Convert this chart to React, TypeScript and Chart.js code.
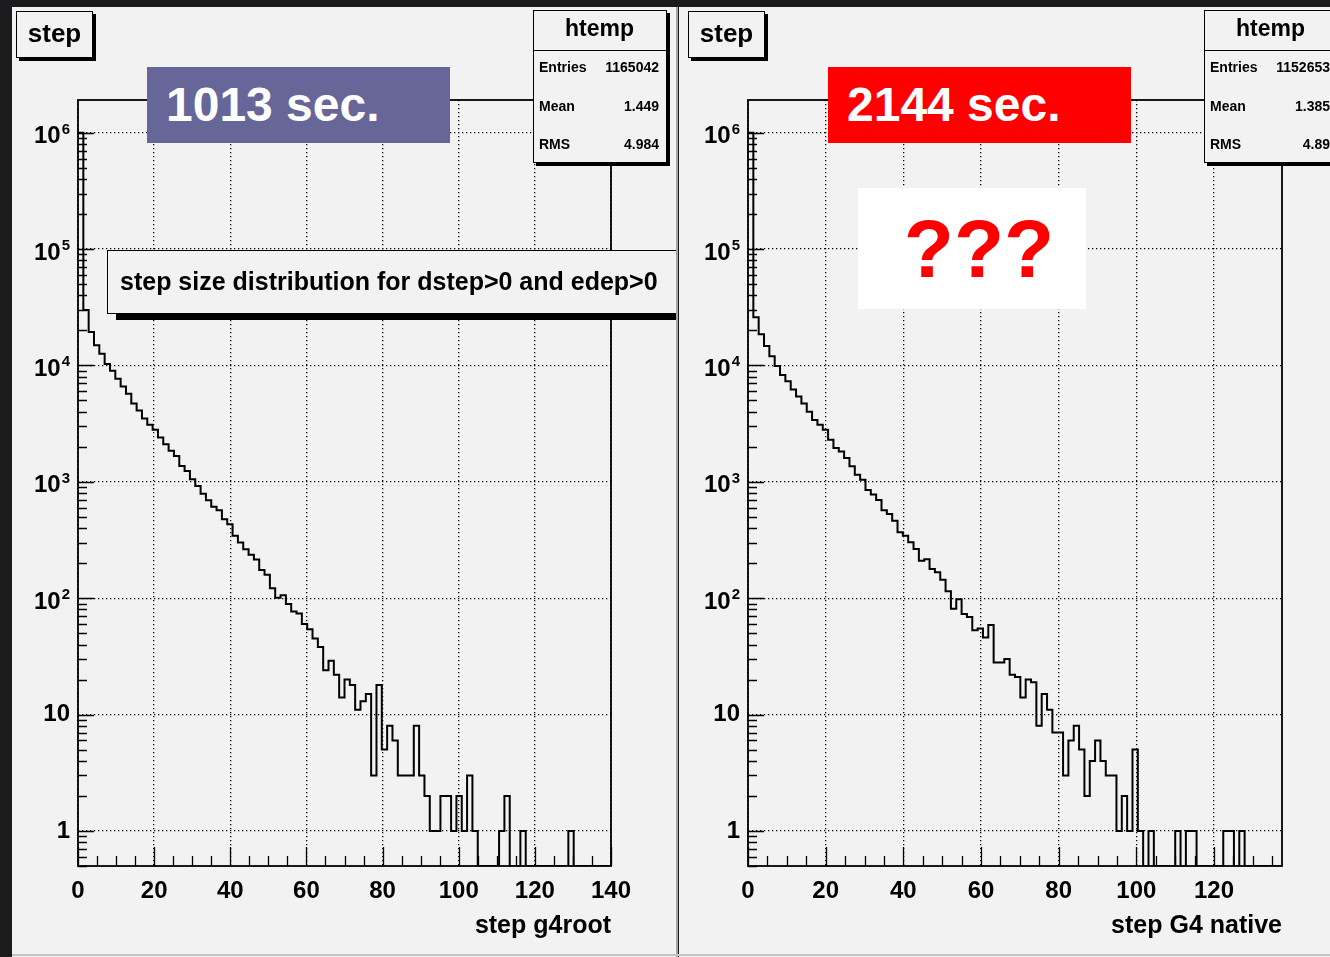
import React, { useEffect, useRef } from 'react';
import { Chart, registerables } from 'chart.js';

Chart.register(...registerables);

const FONT = '"Liberation Sans", Arial, Helvetica, sans-serif';

// ---- data (counts per bin, 100 bins each) ----
const LEFT_COUNTS = [
  1000000, 30000, 19400, 14900, 12600, 10300, 9000, 7700, 6600, 5700,
  4700, 4100, 3500, 3100, 2800, 2400, 2100, 1850, 1670, 1370,
  1240, 1050, 920, 790, 695, 610, 571, 477, 432, 344,
  301, 264, 236, 215, 175, 159, 122, 101, 106, 89,
  77, 74, 60, 54, 45, 38, 24, 29, 22, 14,
  20, 18, 11, 13, 15, 3, 18, 5, 8, 6,
  3, 3, 3, 8, 3, 2, 1, 1, 2, 2,
  1, 2, 1, 3, 1, 0, 0, 0, 0, 1,
  2, 0, 0, 1, 0, 0, 0, 0, 0, 0,
  0, 0, 1, 0, 0, 0, 0, 0, 0, 0,
];

const RIGHT_COUNTS = [
  1000000, 26000, 18500, 14700, 12000, 9900, 8300, 7300, 6200, 5400,
  4700, 4000, 3400, 3100, 2800, 2300, 1950, 1820, 1600, 1360,
  1150, 1040, 850, 780, 697, 571, 528, 464, 368, 344,
  302, 265, 210, 216, 178, 167, 144, 115, 81, 98,
  73, 69, 53, 55, 46, 59, 28, 28, 30, 22,
  21, 14, 20, 19, 8, 15, 11, 7, 7, 3,
  6, 8, 5, 2, 4, 6, 4, 3, 3, 1,
  2, 1, 5, 1, 0, 1, 0, 0, 0, 0,
  1, 0, 1, 1, 0, 0, 0, 0, 0, 1,
  1, 0, 1, 0, 0, 0, 0, 0, 0, 0,
];

const LEFT_X_MAX = 140;
const RIGHT_X_MAX = 137.5;
const Y_MIN = 0.5;
const Y_MAX = 1.91e6;
const Y_DECADES = [1, 10, 100, 1e3, 1e4, 1e5, 1e6];
const Y_TICK_BASES = ['1', '10', '10', '10', '10', '10', '10'];
const Y_TICK_EXPONENTS = ['', '', '2', '3', '4', '5', '6'];
const LEFT_X_TICKS = [0, 20, 40, 60, 80, 100, 120, 140];
const LEFT_X_LABELS = ['0', '20', '40', '60', '80', '100', '120', '140'];
const RIGHT_X_TICKS = [0, 20, 40, 60, 80, 100, 120];
const RIGHT_X_LABELS = ['0', '20', '40', '60', '80', '100', '120'];
const X_MINOR_STEP = 5;

const LEFT_STATS = { entries: '1165042', mean: '1.449', rms: '4.984' };
const RIGHT_STATS = { entries: '1152653', mean: '1.385', rms: '4.89' };

const PAD_BG = '#f2f2f2';

const rootFrame = {
  id: 'rootFrame',
  afterDatasetsDraw(chart: any, _args: any, opts: any) {
    const { ctx, chartArea: a } = chart;
    const xs = chart.scales.x;
    const ys = chart.scales.y;
    ctx.save();
    ctx.strokeStyle = '#000';
    ctx.lineWidth = 1.3;
    ctx.beginPath();
    for (let v = 0; v <= xs.max + 1e-6; v += X_MINOR_STEP) {
      const px = Math.round(xs.getPixelForValue(v)) + 0.5;
      const major = opts.xTicks.includes(v);
      const len = major ? 19 : 10;
      ctx.moveTo(px, a.bottom);
      ctx.lineTo(px, a.bottom - len);
    }
    for (let d = 0.1; d <= 1.0001e6; d *= 10) {
      for (let m = 1; m <= 9; m++) {
        const v = m * d;
        if (v < ys.min * 0.9999 || v > ys.max) continue;
        const py = Math.round(ys.getPixelForValue(v)) + 0.5;
        const len = m === 1 ? 16 : 9;
        ctx.moveTo(a.left, py);
        ctx.lineTo(a.left + len, py);
      }
    }
    ctx.stroke();
    ctx.lineWidth = 1.8;
    ctx.strokeRect(a.left, a.top, a.right - a.left, a.bottom - a.top);

    ctx.fillStyle = '#000';
    ctx.font = `bold 24px ${FONT}`;
    ctx.textAlign = 'center';
    ctx.textBaseline = 'middle';
    opts.xTicks.forEach((v: number, i: number) => {
      ctx.fillText(opts.xLabels[i], xs.getPixelForValue(v), a.bottom + 25);
    });

    const right = a.left - 8;
    Y_DECADES.forEach((v, i) => {
      const b = Y_TICK_BASES[i];
      const e = Y_TICK_EXPONENTS[i];
      const py = ys.getPixelForValue(v);
      if (!e) {
        ctx.font = `bold 24px ${FONT}`;
        ctx.textAlign = 'right';
        ctx.textBaseline = 'middle';
        ctx.fillText(b, right, py);
      } else {
        ctx.font = `bold 15px ${FONT}`;
        const we = ctx.measureText(e).width;
        ctx.textAlign = 'left';
        ctx.textBaseline = 'alphabetic';
        ctx.fillText(e, right - we, py + 1);
        ctx.font = `bold 24px ${FONT}`;
        ctx.textAlign = 'right';
        ctx.textBaseline = 'middle';
        ctx.fillText(b, right - we - 1, py + 4);
      }
    });

    ctx.font = `bold 25px ${FONT}`;
    ctx.textAlign = 'right';
    ctx.textBaseline = 'middle';
    ctx.fillText(opts.title, a.right, a.bottom + 60);
    ctx.restore();
  },
};

type PanelProps = {
  counts: number[];
  xMax: number;
  xTicks: number[];
  xLabels: string[];
  title: string;
  width: number;
  height: number;
  padding: { left: number; right: number; top: number; bottom: number };
};

function HistCanvas(p: PanelProps) {
  const ref = useRef<HTMLCanvasElement>(null);
  useEffect(() => {
    if (!ref.current) return;
    const binW = p.xMax / p.counts.length;
    const pts = p.counts.map((c, i) => ({ x: i * binW, y: c > 0 ? c : Y_MIN }));
    pts.push({ x: p.xMax, y: pts[pts.length - 1].y });
    const chart = new Chart(ref.current, {
      type: 'line',
      data: {
        datasets: [
          {
            data: pts,
            stepped: true,
            borderColor: '#000',
            borderWidth: 2,
            pointRadius: 0,
            fill: false,
            tension: 0,
          } as any,
        ],
      },
      options: {
        animation: false,
        responsive: false,
        devicePixelRatio: 1,
        layout: { padding: p.padding },
        plugins: {
          legend: { display: false },
          tooltip: { enabled: false },
          rootFrame: { xTicks: p.xTicks, xLabels: p.xLabels, title: p.title },
        } as any,
        scales: {
          x: {
            type: 'linear',
            min: 0,
            max: p.xMax,
            ticks: { display: false },
            grid: { color: '#000', lineWidth: 1.3, drawTicks: false },
            border: { display: false, dash: [1.3, 2.7] },
            afterBuildTicks: (ax: any) => {
              ax.ticks = p.xTicks.map((v) => ({ value: v }));
            },
            afterFit: (s: any) => {
              s.height = 0;
            },
          },
          y: {
            type: 'logarithmic',
            min: Y_MIN,
            max: Y_MAX,
            ticks: { display: false },
            grid: { color: '#000', lineWidth: 1.3, drawTicks: false },
            border: { display: false, dash: [1.3, 2.7] },
            afterBuildTicks: (ax: any) => {
              ax.ticks = Y_DECADES.map((v) => ({ value: v }));
            },
            afterFit: (s: any) => {
              s.width = 0;
            },
          },
        } as any,
      },
      plugins: [rootFrame],
    });
    return () => chart.destroy();
  }, []);
  return (
    <canvas
      ref={ref}
      width={p.width}
      height={p.height}
      style={{ position: 'absolute', left: 0, top: 0, width: p.width, height: p.height }}
    />
  );
}

const abs = (l: number, t: number, w: number, h: number): React.CSSProperties => ({
  position: 'absolute',
  left: l,
  top: t,
  width: w,
  height: h,
  boxSizing: 'border-box',
});

function TitleBox({ left }: { left: number }) {
  return (
    <div
      style={{
        ...abs(left, 4, 77, 47),
        background: PAD_BG,
        border: '1.5px solid #000',
        boxShadow: '3px 3px 0 #000',
        font: `bold 26px ${FONT}`,
        textAlign: 'center',
        lineHeight: '42px',
        color: '#000',
      }}
    >
      step
    </div>
  );
}

function StatsBox({ left, stats }: { left: number; stats: { entries: string; mean: string; rms: string } }) {
  const row = (label: string, value: string, top: number) => (
    <div style={{ ...abs(0, top, 134, 20), font: `bold 14px ${FONT}`, lineHeight: '20px' }}>
      <span style={{ position: 'absolute', left: 5 }}>{label}</span>
      <span style={{ position: 'absolute', right: 9 }}>{value}</span>
    </div>
  );
  return (
    <div
      style={{
        ...abs(left, 3, 134, 153),
        background: PAD_BG,
        border: '1.5px solid #000',
        boxShadow: '3px 3px 0 #000',
        color: '#000',
      }}
    >
      <div
        style={{
          ...abs(-1.5, -1.5, 134, 41),
          borderBottom: '1.5px solid #000',
          font: `bold 23px ${FONT}`,
          textAlign: 'center',
          lineHeight: '36px',
        }}
      >
        htemp
      </div>
      {row('Entries', stats.entries, 46)}
      {row('Mean', stats.mean, 85)}
      {row('RMS', stats.rms, 123)}
    </div>
  );
}

function TimeBox({ left, bg, text }: { left: number; bg: string; text: string }) {
  return (
    <div
      style={{
        ...abs(left, 60, 303, 76),
        background: bg,
        color: '#fff',
        font: `bold 48px ${FONT}`,
        lineHeight: '76px',
        paddingLeft: 19,
        whiteSpace: 'nowrap',
      }}
    >
      {text}
    </div>
  );
}

export default function App() {
  useEffect(() => {
    document.body.style.margin = '0';
  }, []);
  return (
    <div
      style={{
        position: 'absolute',
        left: 0,
        top: 0,
        width: 1330,
        height: 957,
        background: '#1b1b1d',
        overflow: 'hidden',
      }}
    >
      {/* left pad */}
      <div style={{ ...abs(12, 7, 664, 950), background: PAD_BG, overflow: 'hidden' }}>
        <HistCanvas
          counts={LEFT_COUNTS}
          xMax={LEFT_X_MAX}
          xTicks={LEFT_X_TICKS}
          xLabels={LEFT_X_LABELS}
          title="step g4root"
          width={664}
          height={950}
          padding={{ left: 66, right: 65, top: 93, bottom: 91 }}
        />
        <TitleBox left={4} />
        <StatsBox left={521} stats={LEFT_STATS} />
        <TimeBox left={135} bg="#666699" text="1013 sec." />
        <div
          style={{
            ...abs(95, 243, 600, 64),
            background: PAD_BG,
            border: '1.5px solid #000',
            boxShadow: '9px 6px 0 #000',
            font: `bold 25px ${FONT}`,
            lineHeight: '60px',
            paddingLeft: 12,
            whiteSpace: 'nowrap',
            color: '#000',
          }}
        >
          step size distribution for dstep&gt;0 and edep&gt;0
        </div>
      </div>
      <div style={{ ...abs(676, 7, 2, 950), background: '#a6a6a6' }} />
      {/* right pad */}
      <div style={{ ...abs(679, 7, 651, 950), background: PAD_BG, overflow: 'hidden' }}>
        <HistCanvas
          counts={RIGHT_COUNTS}
          xMax={RIGHT_X_MAX}
          xTicks={RIGHT_X_TICKS}
          xLabels={RIGHT_X_LABELS}
          title="step G4 native"
          width={651}
          height={950}
          padding={{ left: 69, right: 48, top: 93, bottom: 91 }}
        />
        <TitleBox left={9} />
        <StatsBox left={525} stats={RIGHT_STATS} />
        <TimeBox left={149} bg="#ff0000" text="2144 sec." />
        <div
          style={{
            ...abs(179, 181, 228, 121),
            background: '#fff',
            color: '#ff0000',
            font: `bold 82px ${FONT}`,
            lineHeight: '121px',
            textAlign: 'center',
            paddingLeft: 14,
          }}
        >
          ???
        </div>
      </div>
      <div style={{ ...abs(12, 954, 1318, 2), background: '#c4c4c4' }} />
    </div>
  );
}
